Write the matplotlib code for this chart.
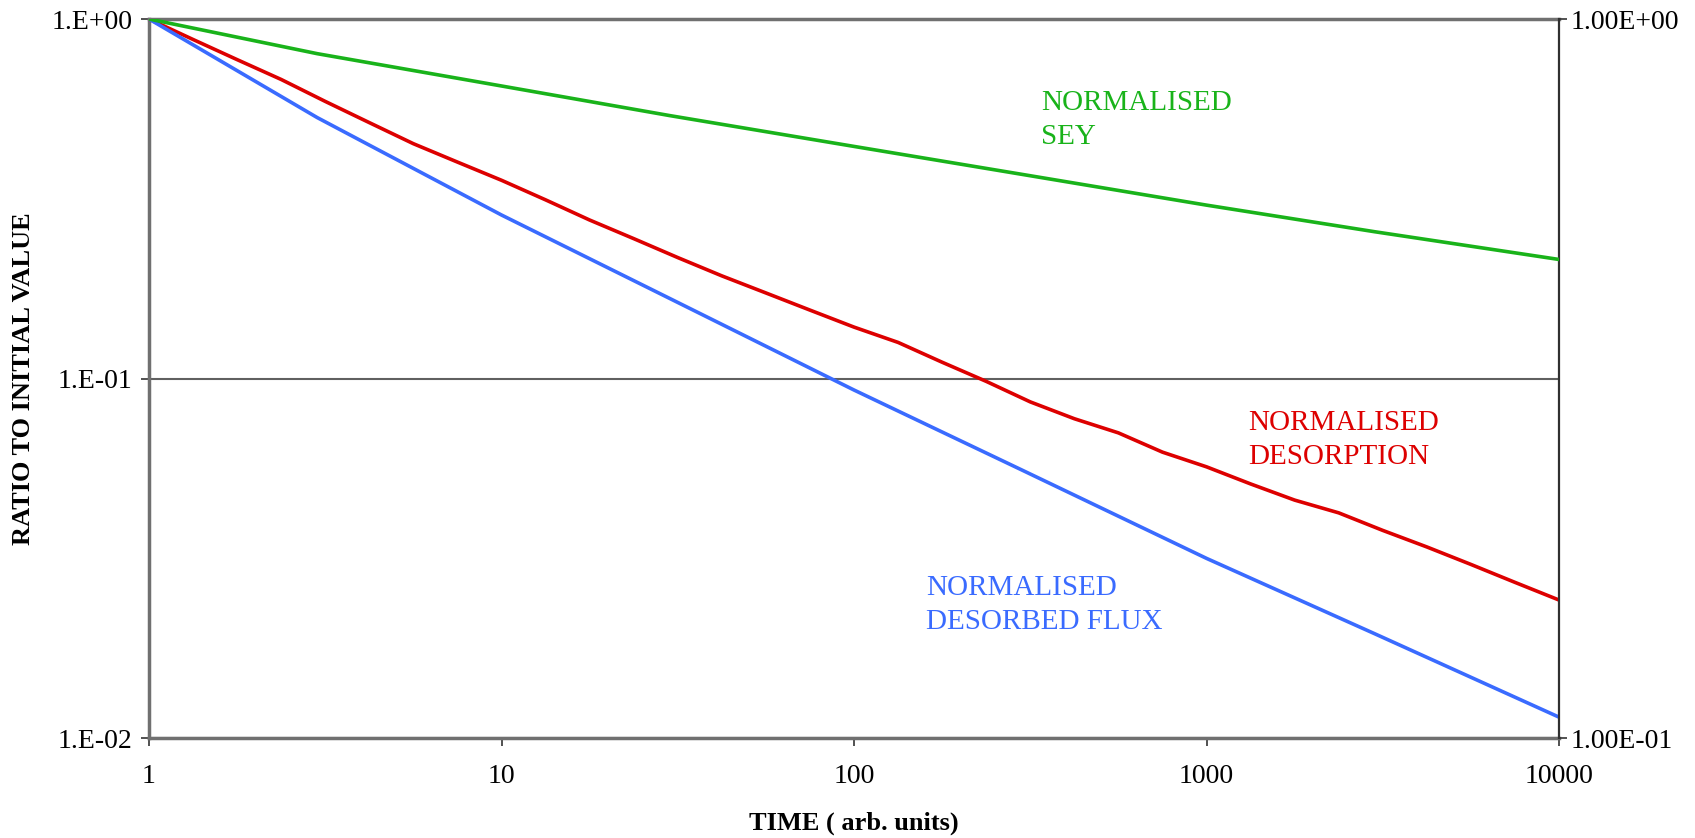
import matplotlib
matplotlib.use("Agg")
import matplotlib.pyplot as plt

# ---- data ----
time_red = [1, 1.334, 1.778, 2.371, 3.162, 4.217, 5.623, 7.499, 10, 13.34, 17.78, 23.71,
            31.62, 42.17, 56.23, 74.99, 100, 133.4, 177.8, 237.1, 316.2, 421.7, 562.3, 749.9,
            1000, 1334, 1778, 2371, 3162, 4217, 5623, 7499, 10000]
desorption = [1.000, 0.877, 0.771, 0.679, 0.590, 0.515, 0.450, 0.400, 0.356, 0.314, 0.276, 0.245,
              0.217, 0.193, 0.173, 0.155, 0.139, 0.126, 0.111, 0.0982, 0.0861, 0.0773, 0.0706, 0.0624,
              0.0568, 0.0509, 0.0459, 0.0423, 0.0378, 0.0340, 0.0304, 0.0271, 0.0242]

time_pts = [1, 3, 10, 30, 100, 300, 1000, 3000, 10000]
desorbed_flux = [1.0, 0.532, 0.285, 0.167, 0.0929, 0.0556, 0.0316, 0.0195, 0.01143]
sey = [1.0, 0.895, 0.807, 0.734, 0.665, 0.608, 0.551, 0.506, 0.463]

x_ticks = [1, 10, 100, 1000, 10000]
x_labels = ["1", "10", "100", "1000", "10000"]
yl_ticks = [1e-2, 1e-1, 1e0]
yl_labels = ["1.E-02", "1.E-01", "1.E+00"]
yr_ticks = [1e-1, 1e0]
yr_labels = ["1.00E-01", "1.00E+00"]

GREEN = "#19B31A"
RED = "#DD0000"
BLUE = "#3A6BFF"

plt.rcParams['font.family'] = ['Liberation Serif', 'DejaVu Serif']

fig = plt.figure(figsize=(16.95, 8.38), dpi=100)
ax = fig.add_axes([0.0879, 0.1193, 0.8319, 0.858])
ax2 = ax.twinx()

ax.set_xscale('log')
ax.set_yscale('log')
ax2.set_yscale('log')
ax.set_xlim(1, 10000)
ax.set_ylim(1e-2, 1e0)
ax2.set_ylim(1e-1, 1e0)

ax.plot(time_red, desorption, color=RED, lw=2.6, zorder=3)
ax.plot(time_pts, desorbed_flux, color=BLUE, lw=2.6, zorder=3)
ax2.plot(time_pts, sey, color=GREEN, lw=2.6, zorder=3)

ax.set_xticks(x_ticks)
ax.set_xticklabels(x_labels)
ax.set_yticks(yl_ticks)
ax.set_yticklabels(yl_labels)
ax2.set_yticks(yr_ticks)
ax2.set_yticklabels(yr_labels)
for a in (ax, ax2):
    a.minorticks_off()
    a.tick_params(axis='both', which='major', labelsize=20, direction='out',
                  length=6, width=1.2, color='#333333', pad=6)
ax.tick_params(axis='x', pad=13)
ax2.tick_params(axis='y', pad=2)

ax.yaxis.grid(True, color='#606060', lw=1.5)
ax.set_axisbelow(True)

for name, sp in ax.spines.items():
    sp.set_color('#707070')
    sp.set_linewidth(2.5)
for name, sp in ax2.spines.items():
    sp.set_visible(False)
ax2.spines['right'].set_visible(True)
ax2.spines['right'].set_color('#303030')
ax2.spines['right'].set_linewidth(1.6)
ax.spines['right'].set_visible(False)

ax.set_xlabel("TIME ( arb. units)", fontsize=19, fontweight='bold', labelpad=16)
ax.set_ylabel("RATIO TO INITIAL VALUE", fontsize=19, fontweight='bold', labelpad=12)

ax.text(340, 0.6345, "NORMALISED\nSEY", color=GREEN, fontsize=21, va='top', ha='left',
        linespacing=1.42)
ax.text(1315, 0.0817, "NORMALISED\nDESORPTION", color=RED, fontsize=21, va='top', ha='left',
        linespacing=1.42)
ax.text(160, 0.0284, "NORMALISED\nDESORBED FLUX", color=BLUE, fontsize=21, va='top', ha='left',
        linespacing=1.42)

fig.savefig("out.png", dpi=100)
